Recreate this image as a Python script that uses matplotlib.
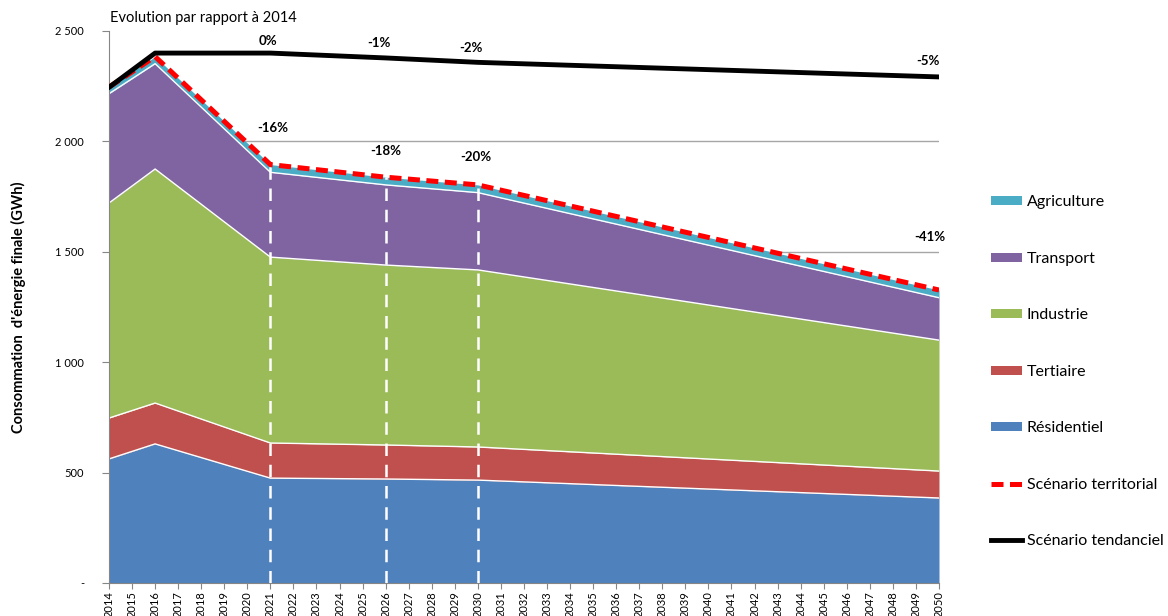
import matplotlib
matplotlib.use("Agg")
import matplotlib.pyplot as plt
from matplotlib.patches import Patch
from matplotlib.lines import Line2D
import numpy as np

plt.rcParams['font.family'] = ['Lato', 'DejaVu Sans']

# Key years of the scenario (straight segments between them)
years = [2014, 2016, 2021, 2026, 2030, 2050]
all_years = list(range(2014, 2051))

# Final energy consumption by sector, GWh
residentiel = [562, 630, 475, 471, 466, 385]
tertiaire = [185, 185, 159, 154, 150, 122]
industrie = [974, 1060, 842, 815, 802, 593]
transport = [495, 477, 384, 363, 350, 192]
agriculture = [30, 32, 35, 35, 35, 35]

# Trend scenario, GWh
tendanciel = [2245, 2400, 2400, 2378, 2358, 2292]

sectors = ["Résidentiel", "Tertiaire", "Industrie", "Transport", "Agriculture"]
colors = ["#4F81BD", "#C0504D", "#9BBB59", "#8064A2", "#4BACC6"]

# Change labels: (text, x in years, y in GWh)
labels_tend = [("0%", 2020.9, 2455), ("-1%", 2025.7, 2446),
               ("-2%", 2029.7, 2423), ("-5%", 2049.5, 2362)]
labels_terr = [("-16%", 2021.1, 2061), ("-18%", 2026.0, 1957),
               ("-20%", 2029.9, 1929), ("-41%", 2049.6, 1567)]
milestones = [2021, 2026, 2030]

fig = plt.figure(figsize=(11.68, 6.16), dpi=100)
ax = fig.add_axes([109 / 1168, 1 - 583 / 616, (939 - 109) / 1168, (583 - 31) / 616])

series = np.array([residentiel, tertiaire, industrie, transport, agriculture], dtype=float)
cum = np.cumsum(series, axis=0)
x = np.array(years)

# Horizontal gridlines behind the areas
for v in [500, 1000, 1500, 2000]:
    ax.axhline(v, color="#A6A6A6", lw=1, zorder=0)

bottom = np.zeros(len(years))
for i in range(len(sectors)):
    ax.fill_between(x, bottom, cum[i], color=colors[i], lw=0, zorder=1)
    bottom = cum[i]
for i in range(len(sectors) - 1):
    ax.plot(x, cum[i], color="white", lw=1, zorder=2)

total = cum[-1]

# Dashed milestone markers
for m in milestones:
    top = total[years.index(m)]
    ax.plot([m, m], [0, top], color="white", lw=1.8, ls=(0, (5, 3.5)), zorder=3)

terr_style = (0, (2.4, 1.3))
ax.plot(x, total, color="#FF0000", lw=3.6, ls=terr_style, zorder=4)
ax.plot(x, tendanciel, color="black", lw=3.5, zorder=4)

for t, xx, yy in labels_tend + labels_terr:
    ax.text(xx, yy, t, ha="center", va="center", fontsize=9.5, fontweight="bold")

ax.set_xlim(2014, 2050)
ax.set_ylim(0, 2500)
ax.set_xticks(all_years)
ax.set_xticklabels([str(y) for y in all_years], rotation=90, fontsize=8)
ax.set_yticks([0, 500, 1000, 1500, 2000, 2500])
ax.set_yticklabels(["-", "500", "1 000", "1 500", "2 000", "2 500"], fontsize=8)
ax.tick_params(axis="y", length=5, color="#868686", pad=13)
ax.tick_params(axis="x", length=4, color="#868686", pad=2)
for s in ["top", "right"]:
    ax.spines[s].set_visible(False)
for s in ["left", "bottom"]:
    ax.spines[s].set_color("#868686")

fig.text(18 / 1168, 1 - 307 / 616, "Consommation  d'énergie finale (GWh)", rotation=90,
         ha="center", va="center", fontsize=10.5, fontweight="bold")
fig.text(110 / 1168, 1 - 18 / 616, "Evolution par rapport à 2014", ha="left",
         va="center", fontsize=10.5)

handles = [Patch(facecolor=colors[4]), Patch(facecolor=colors[3]),
           Patch(facecolor=colors[2]), Patch(facecolor=colors[1]),
           Patch(facecolor=colors[0]),
           Line2D([], [], color="#FF0000", lw=3.6, ls=terr_style),
           Line2D([], [], color="black", lw=3.5)]
names = ["Agriculture", "Transport", "Industrie", "Tertiaire", "Résidentiel",
         "Scénario territorial", "Scénario tendanciel"]
fig.legend(handles, names, loc="upper left", bbox_to_anchor=(985 / 1168, 1 - 189 / 616),
           frameon=False, fontsize=11.5, labelspacing=2.66, handlelength=1.9,
           handleheight=0.5, handletextpad=0.3, borderaxespad=0)

fig.savefig("out.png", dpi=100)
